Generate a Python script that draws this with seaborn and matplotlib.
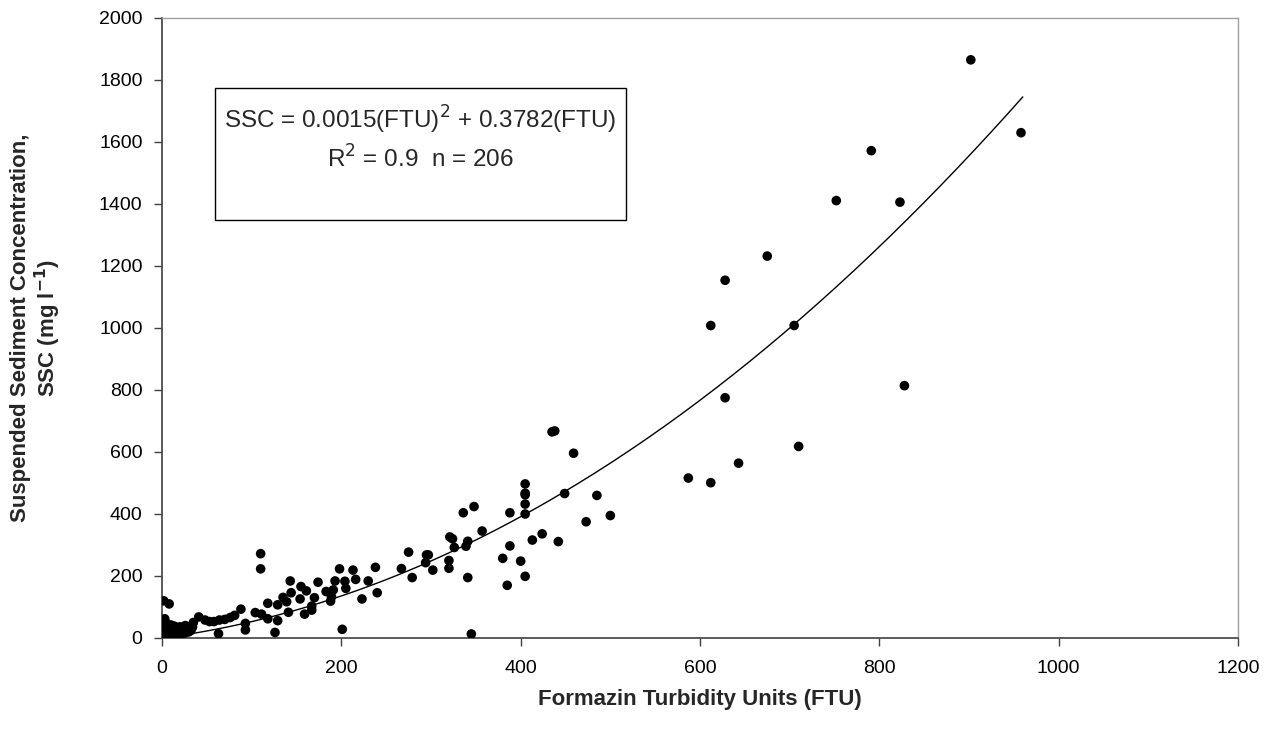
import numpy as np
import pandas as pd
import matplotlib
matplotlib.use("Agg")
import matplotlib.pyplot as plt
import seaborn as sns

# FTU / SSC samples
ftu = [
    # dense cluster near origin
    0, 0, 1, 1, 2, 2, 3, 3, 4, 4, 5, 5, 6, 6, 7, 7, 8, 8, 9, 10,
    10, 11, 12, 12, 13, 14, 15, 15, 16, 17, 18, 18, 19, 20, 20, 21, 22, 23, 24, 25,
    25, 26, 27, 28, 29, 30, 30, 31, 32, 33, 34, 2, 4, 6, 10, 14, 20, 26, 12, 18,
    2, 8, 3, 5, 9,
    # 35 - 100
    35, 41, 48, 53, 58, 64, 70, 76, 81, 88, 63, 93, 93, 104,
    # 100 - 260
    111, 118, 110, 110, 118, 129, 126, 129, 135, 139, 141, 143, 144, 154, 155, 161,
    159, 167, 167, 170, 174, 183, 188, 189, 191, 193, 198, 201, 204, 205, 213, 216,
    223, 230, 238, 240,
    # 260 - 400
    267, 275, 279, 295, 297, 294, 302, 320, 320, 321, 324, 326, 336, 348, 341, 339,
    357, 341, 345, 388, 388, 380, 385, 400,
    # 400 - 500
    405, 405, 405, 405, 405, 405, 413, 424, 435, 438, 442, 449, 459, 473, 485, 500,
    # upper range
    587, 612, 612, 628, 628, 643, 675, 705, 710, 752, 791, 823, 828, 902, 958,
]
ssc = [
    5, 15, 2, 25, 10, 35, 8, 20, 3, 30, 12, 40, 6, 18, 14, 28, 4, 22, 10, 8,
    32, 16, 12, 26, 20, 6, 18, 30, 14, 22, 10, 26, 16, 12, 24, 18, 14, 28, 20, 16,
    30, 22, 18, 26, 24, 20, 34, 28, 24, 30, 36, 45, 50, 28, 42, 38, 36, 40, 4, 2,
    120, 110, 62, 47, 39,
    50, 68, 58, 53, 53, 58, 60, 66, 73, 93, 14, 26, 47, 82,
    77, 62, 272, 223, 112, 107, 18, 56, 131, 117, 83, 184, 146, 126, 166, 152,
    77, 103, 90, 130, 180, 150, 119, 133, 155, 184, 223, 28, 183, 160, 219, 189,
    126, 184, 228, 146,
    224, 277, 195, 268, 268, 243, 219, 250, 225, 326, 320, 292, 404, 424, 312, 296,
    345, 195, 13, 404, 297, 257, 170, 248,
    497, 467, 462, 432, 400, 199, 316, 336, 665, 668, 311, 466, 596, 375, 460, 395,
    516, 501, 1008, 1154, 775, 564, 1232, 1008, 618, 1411, 1572, 1406, 814, 1865, 1630,
]

# fitted trend from the chart's equation
coef_a, coef_b = 0.0015, 0.3782
fit_x = np.linspace(0, 960, 200)
fit = pd.DataFrame({"ftu": fit_x, "ssc": coef_a * fit_x ** 2 + coef_b * fit_x})
pts = pd.DataFrame({"ftu": ftu, "ssc": ssc})

sns.set_style("white")
plt.rcParams["font.family"] = ["Liberation Sans", "DejaVu Sans"]

fig = plt.figure(figsize=(12.69, 7.38), dpi=100)
ax = fig.add_axes([162 / 1269, 100 / 738, (1238 - 162) / 1269, (638 - 18) / 738])

sns.scatterplot(data=pts, x="ftu", y="ssc", color="black", s=48,
                edgecolor="none", ax=ax, zorder=3)
sns.lineplot(data=fit, x="ftu", y="ssc", color="black", linewidth=1.0, ax=ax)

ax.set_xlim(0, 1200)
ax.set_ylim(0, 2000)
ax.set_xticks(range(0, 1201, 200))
ax.set_yticks(range(0, 2001, 200))
ax.tick_params(axis="both", direction="out", length=6, width=1, colors="#404040",
               labelsize=14, labelcolor="black", bottom=True, left=True)
ax.tick_params(axis="x", pad=10)
ax.tick_params(axis="y", pad=8)

for side in ["left", "bottom"]:
    ax.spines[side].set_color("#404040")
    ax.spines[side].set_linewidth(1.2)
for side in ["top", "right"]:
    ax.spines[side].set_color("#a0a0a0")
    ax.spines[side].set_linewidth(1.0)

ax.set_xlabel("Formazin Turbidity Units (FTU)", fontsize=16, fontweight="bold")
ax.set_ylabel("Suspended Sediment Concentration,\nSSC (mg l$^{\\mathbf{-1}}$)",
              fontsize=16, fontweight="bold", linespacing=1.1)
ax.xaxis.set_label_coords(0.5, -0.082)
ax.yaxis.set_label_coords(-0.092, 0.5)

# equation box
box_x0, box_x1 = 59, 517
box_y0, box_y1 = 1350, 1775
ax.add_patch(plt.Rectangle((box_x0, box_y0), box_x1 - box_x0, box_y1 - box_y0,
                           fill=False, edgecolor="black", linewidth=1.0, zorder=4))
ax.text((box_x0 + box_x1) / 2, 1672, "SSC = 0.0015(FTU)$^{2}$ + 0.3782(FTU)",
        ha="center", va="center", fontsize=17.5, zorder=5)
ax.text((box_x0 + box_x1) / 2, 1545, "R$^{2}$ = 0.9  n = 206",
        ha="center", va="center", fontsize=17.5, zorder=5)

fig.savefig("out.png", dpi=100)
